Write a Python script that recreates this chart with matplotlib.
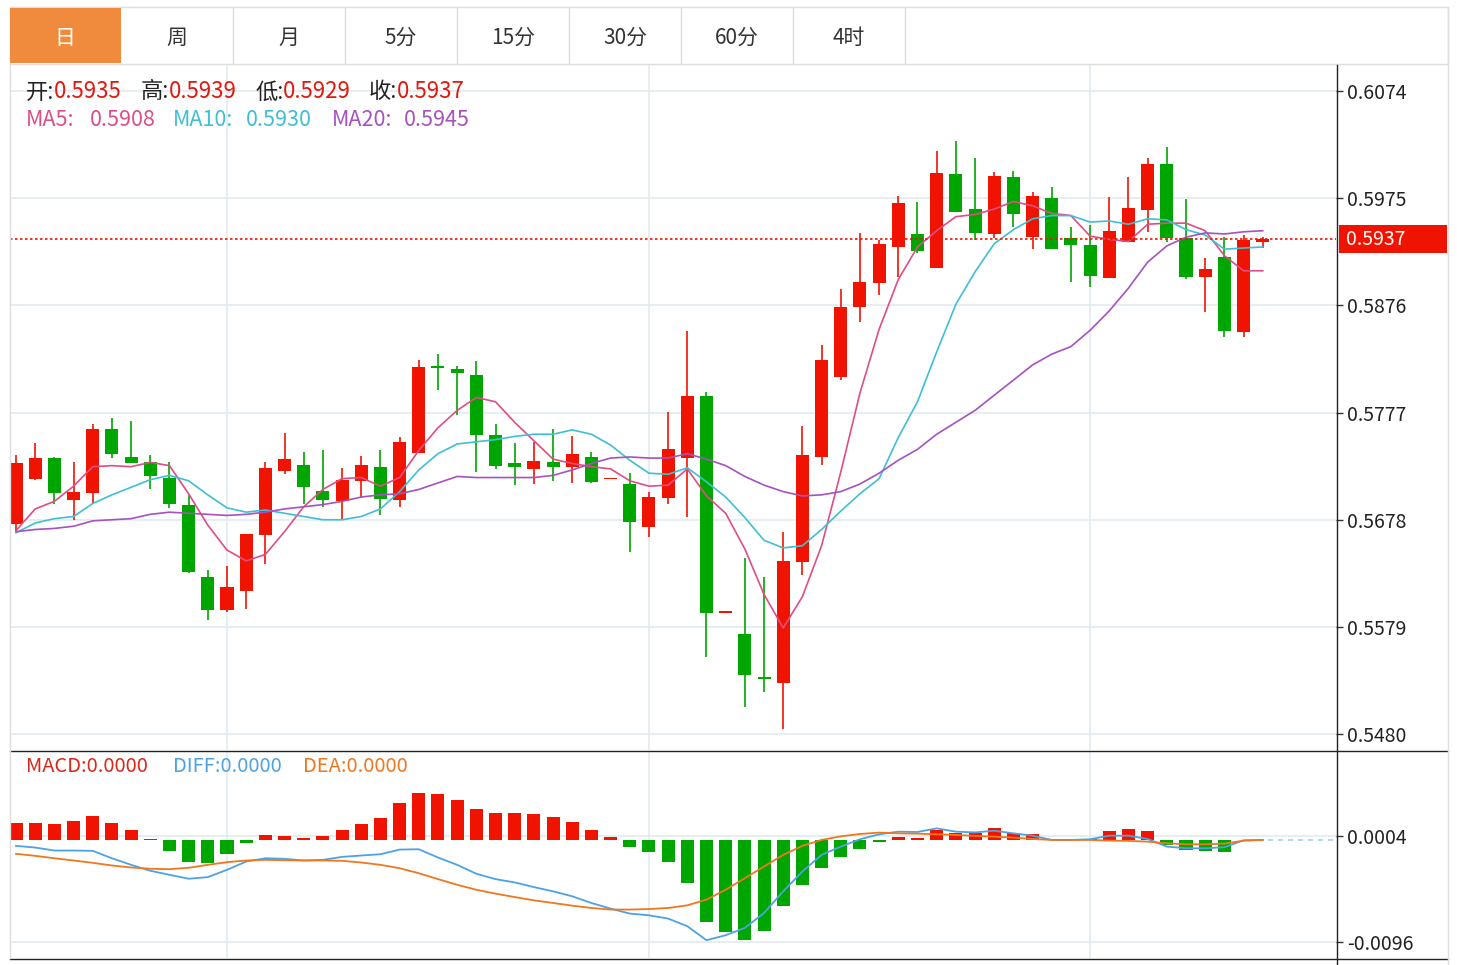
import matplotlib
matplotlib.use("Agg")
import matplotlib.pyplot as plt
import matplotlib.transforms as mtransforms
from matplotlib.patches import Rectangle
from matplotlib.lines import Line2D

plt.rcParams['font.family'] = ['Noto Sans CJK SC', 'DejaVu Sans']

# 日K 数据, 66 根
opens = [0.5674, 0.5716, 0.5735, 0.5696, 0.5703, 0.5762, 0.5736, 0.5731, 0.5717, 0.5692,
         0.5625, 0.5595, 0.5612, 0.5664, 0.5723, 0.5729, 0.5705, 0.5695, 0.5714, 0.5727,
         0.5696, 0.5740, 0.5820, 0.5817, 0.5812, 0.5756, 0.5730, 0.5725, 0.5731, 0.5727,
         0.5736, 0.5716, 0.5711, 0.5671, 0.5698, 0.5735, 0.5792, 0.5593, 0.5572, 0.5533,
         0.5527, 0.5639, 0.5736, 0.5810, 0.5875, 0.5897, 0.5930, 0.5942, 0.5911, 0.5997,
         0.5965, 0.5942, 0.5995, 0.5939, 0.5975, 0.5938, 0.5932, 0.5901, 0.5935, 0.5964,
         0.6007, 0.5938, 0.5902, 0.5921, 0.5851, 0.5935]
highs = [0.5738, 0.5749, 0.5736, 0.5731, 0.5766, 0.5772, 0.5769, 0.5738, 0.5731, 0.5701,
         0.5632, 0.5635, 0.5665, 0.5731, 0.5758, 0.5741, 0.5742, 0.5726, 0.5737, 0.5742,
         0.5754, 0.5826, 0.5831, 0.5820, 0.5825, 0.5766, 0.5749, 0.5750, 0.5762, 0.5755,
         0.5741, 0.5716, 0.5721, 0.5704, 0.5778, 0.5852, 0.5796, 0.5593, 0.5643, 0.5625,
         0.5667, 0.5765, 0.5839, 0.5891, 0.5943, 0.5936, 0.5977, 0.5972, 0.6019, 0.6028,
         0.6012, 0.5999, 0.6000, 0.5981, 0.5985, 0.5948, 0.5950, 0.5976, 0.5995, 0.6012,
         0.6022, 0.5974, 0.5920, 0.5939, 0.5941, 0.5939]
lows = [0.5668, 0.5715, 0.5693, 0.5678, 0.5693, 0.5735, 0.5730, 0.5706, 0.5689, 0.5629,
        0.5585, 0.5593, 0.5596, 0.5637, 0.5720, 0.5693, 0.5690, 0.5678, 0.5698, 0.5682,
        0.5690, 0.5740, 0.5798, 0.5775, 0.5722, 0.5725, 0.5710, 0.5711, 0.5714, 0.5712,
        0.5712, 0.5716, 0.5648, 0.5662, 0.5693, 0.5681, 0.5551, 0.5593, 0.5505, 0.5519,
        0.5485, 0.5627, 0.5729, 0.5807, 0.5861, 0.5886, 0.5902, 0.5924, 0.5911, 0.5962,
        0.5936, 0.5938, 0.5948, 0.5928, 0.5928, 0.5898, 0.5893, 0.5901, 0.5935, 0.5944,
        0.5935, 0.5900, 0.5870, 0.5847, 0.5847, 0.5929]
closes = [0.5730, 0.5735, 0.5703, 0.5704, 0.5762, 0.5739, 0.5730, 0.5718, 0.5693, 0.5630,
          0.5595, 0.5616, 0.5665, 0.5726, 0.5734, 0.5708, 0.5696, 0.5715, 0.5729, 0.5697,
          0.5750, 0.5819, 0.5818, 0.5814, 0.5756, 0.5728, 0.5727, 0.5732, 0.5727, 0.5739,
          0.5713, 0.5716, 0.5676, 0.5699, 0.5743, 0.5792, 0.5592, 0.5593, 0.5535, 0.5531,
          0.5640, 0.5738, 0.5826, 0.5875, 0.5898, 0.5933, 0.5971, 0.5926, 0.5998, 0.5962,
          0.5943, 0.5996, 0.5960, 0.5977, 0.5928, 0.5932, 0.5903, 0.5945, 0.5966, 0.6007,
          0.5938, 0.5902, 0.5910, 0.5852, 0.5936, 0.5937]

# 均线
ma5 = [0.5668, 0.5688, 0.5695, 0.5709, 0.5727, 0.5728, 0.5727, 0.5731, 0.5728, 0.5702,
       0.5673, 0.5650, 0.5640, 0.5646, 0.5667, 0.5690, 0.5706, 0.5716, 0.5717, 0.5709,
       0.5717, 0.5742, 0.5763, 0.5779, 0.5791, 0.5787, 0.5768, 0.5751, 0.5734, 0.5730,
       0.5727, 0.5725, 0.5714, 0.5709, 0.5710, 0.5725, 0.5700, 0.5684, 0.5651, 0.5609,
       0.5578, 0.5607, 0.5654, 0.5722, 0.5795, 0.5854, 0.5900, 0.5930, 0.5945, 0.5958,
       0.5960, 0.5965, 0.5972, 0.5968, 0.5961, 0.5959, 0.5940, 0.5937, 0.5935, 0.5951,
       0.5952, 0.5952, 0.5945, 0.5922, 0.5908, 0.5908]
ma10 = [0.5666, 0.5675, 0.5679, 0.5681, 0.5693, 0.5701, 0.5708, 0.5715, 0.5719, 0.5714,
        0.5701, 0.5689, 0.5685, 0.5687, 0.5684, 0.5681, 0.5678, 0.5678, 0.5681, 0.5688,
        0.5704, 0.5724, 0.5739, 0.5748, 0.5750, 0.5752, 0.5755, 0.5757, 0.5757, 0.5761,
        0.5757, 0.5747, 0.5733, 0.5721, 0.5720, 0.5726, 0.5713, 0.5699, 0.5680, 0.5659,
        0.5652, 0.5654, 0.5669, 0.5686, 0.5702, 0.5716, 0.5754, 0.5787, 0.5833, 0.5877,
        0.5907, 0.5933, 0.5946, 0.5956, 0.5959, 0.5959, 0.5953, 0.5954, 0.5951, 0.5956,
        0.5955, 0.5946, 0.5941, 0.5928, 0.5929, 0.5930]
ma20 = [0.5667, 0.5669, 0.5670, 0.5672, 0.5677, 0.5678, 0.5679, 0.5683, 0.5685, 0.5684,
        0.5683, 0.5682, 0.5683, 0.5685, 0.5688, 0.5690, 0.5692, 0.5695, 0.5699, 0.5701,
        0.5702, 0.5706, 0.5712, 0.5718, 0.5717, 0.5717, 0.5717, 0.5717, 0.5719, 0.5724,
        0.5730, 0.5735, 0.5736, 0.5735, 0.5735, 0.5739, 0.5734, 0.5728, 0.5718, 0.5710,
        0.5704, 0.5700, 0.5701, 0.5704, 0.5711, 0.5721, 0.5733, 0.5743, 0.5757, 0.5768,
        0.5779, 0.5793, 0.5807, 0.5821, 0.5831, 0.5838, 0.5853, 0.5871, 0.5892, 0.5916,
        0.5931, 0.5939, 0.5943, 0.5942, 0.5944, 0.5945]

# MACD
macd = [0.00162, 0.00162, 0.00147, 0.00181, 0.00223, 0.00160, 0.00094, 0.00009, -0.00100, -0.00204,
        -0.00213, -0.00134, -0.00031, 0.00047, 0.00038, 0.00016, 0.00035, 0.00094, 0.00150, 0.00207,
        0.00347, 0.00444, 0.00429, 0.00378, 0.00291, 0.00256, 0.00251, 0.00244, 0.00213, 0.00172,
        0.00094, 0.00025, -0.00069, -0.00115, -0.00204, -0.00404, -0.00773, -0.00873, -0.00946, -0.00857,
        -0.00626, -0.00423, -0.00263, -0.00162, -0.00087, -0.00016, 0.00025, 0.00019, 0.00091, 0.00069,
        0.00069, 0.00113, 0.00069, 0.00056, 0.00003, 0.00009, 0.00012, 0.00085, 0.00103, 0.00082,
        -0.00047, -0.00097, -0.00100, -0.00110, 0.0, 0.0]
diff = [-0.00056, -0.00072, -0.00100, -0.00100, -0.00103, -0.00173, -0.00235, -0.00291, -0.00329, -0.00366,
        -0.00351, -0.00282, -0.00204, -0.00173, -0.00178, -0.00194, -0.00188, -0.00160, -0.00147, -0.00135,
        -0.00091, -0.00088, -0.00166, -0.00235, -0.00319, -0.00370, -0.00401, -0.00445, -0.00485, -0.00532,
        -0.00595, -0.00648, -0.00695, -0.00711, -0.00742, -0.00814, -0.00946, -0.00899, -0.00830, -0.00689,
        -0.00485, -0.00298, -0.00141, -0.00063, 0.00006, 0.00053, 0.00078, 0.00075, 0.00109, 0.00078,
        0.00071, 0.00087, 0.00062, 0.00040, 0.0, 0.0, 0.00006, 0.00040, 0.00040, 0.00009,
        -0.00063, -0.00079, -0.00079, -0.00069, -0.00004, 0.0]
dea = [-0.00131, -0.00150, -0.00173, -0.00194, -0.00216, -0.00241, -0.00260, -0.00272, -0.00276, -0.00263,
       -0.00235, -0.00210, -0.00194, -0.00188, -0.00192, -0.00194, -0.00194, -0.00197, -0.00213, -0.00235,
       -0.00267, -0.00314, -0.00370, -0.00423, -0.00470, -0.00507, -0.00539, -0.00570, -0.00595, -0.00620,
       -0.00642, -0.00657, -0.00657, -0.00652, -0.00642, -0.00617, -0.00563, -0.00470, -0.00361, -0.00251,
       -0.00141, -0.00056, 0.0, 0.00034, 0.00056, 0.00069, 0.00062, 0.00059, 0.00053, 0.00047,
       0.00038, 0.00031, 0.00022, 0.00009, 0.0, 0.0, 0.0, -0.00007, -0.00009, -0.00016,
       -0.00032, -0.00041, -0.00041, -0.00035, -0.00007, 0.0]

price_ticks = [0.6074, 0.5975, 0.5876, 0.5777, 0.5678, 0.5579, 0.5480]
macd_ticks = [0.0004, -0.0096]
month_starts = [11, 33, 56]   # 竖向网格线所在的K线
tab_labels = ["日", "周", "月", "5分", "15分", "30分", "60分", "4时"]

RED = '#F01400'
GREEN = '#00A600'
GRID = '#E4ECF2'
BORDER = '#DEDEDE'
C_MA5 = '#DF4D87'
C_MA10 = '#3FBFD3'
C_MA20 = '#A552BE'
C_DIFF = '#4DA2E4'
C_DEA = '#F0771E'

W, H = 1457, 965
fig = plt.figure(figsize=(W / 100, H / 100), dpi=100)
fig.patch.set_facecolor('white')


def fx(px):
    return px / W


def fy(py):
    return 1 - py / H


def fig_line(x0, y0, x1, y1, color, lw=1.0):
    fig.add_artist(Line2D([fx(x0), fx(x1)], [fy(y0), fy(y1)], color=color, lw=lw,
                          transform=fig.transFigure))


# 顶部周期切换栏
fig.add_artist(Rectangle((fx(10), fy(64)), fx(1448) - fx(10), fy(7) - fy(64),
                         transform=fig.transFigure, facecolor='white', edgecolor=BORDER, lw=1))
fig.add_artist(Rectangle((fx(10), fy(63)), fx(121) - fx(10), fy(8) - fy(63),
                         transform=fig.transFigure, facecolor='#F08B3D', edgecolor='none'))
for k, lab in enumerate(tab_labels):
    if k > 0:
        fig_line(121 + 112 * k, 7, 121 + 112 * k, 64, BORDER)
    fig.text(fx(65 + 112 * k), fy(38), lab, ha='center', va='center', fontsize=15,
             color='white' if k == 0 else '#333333')

n = len(closes)
idx = list(range(n))
xlim = (-0.313, 68.82)

# 主图
ax = fig.add_axes([fx(10), fy(750), fx(1336) - fx(10), fy(65) - fy(750)])
ax.set_xlim(*xlim)
ax.set_ylim(0.54653, 0.60981)

cols = [RED if c >= o else GREEN for o, c in zip(opens, closes)]
ax.vlines(idx, lows, highs, colors=cols, lw=1.2, zorder=3)
min_h = 0.00015
body_h = [max(abs(c - o), min_h) for o, c in zip(opens, closes)]
body_b = [min(o, c) - (max(abs(c - o), min_h) - abs(c - o)) / 2 for o, c in zip(opens, closes)]
ax.bar(idx, body_h, bottom=body_b, width=0.68, color=cols, lw=0, zorder=4)

ax.plot(idx, ma5, color=C_MA5, lw=1.2, zorder=5)
ax.plot(idx, ma10, color=C_MA10, lw=1.2, zorder=5)
ax.plot(idx, ma20, color=C_MA20, lw=1.2, zorder=5)

ax.axhline(closes[-1], color=RED, lw=1.2, ls=(0, (1.5, 1.5)), zorder=6)

ax.set_yticks(price_ticks)
ax.set_yticklabels([f"{t:.4f}" for t in price_ticks])
ax.set_xticks(month_starts)
ax.grid(True, color=GRID, lw=1.3, zorder=0)
ax.set_axisbelow(True)
ax.yaxis.tick_right()
ax.tick_params(axis='y', length=5, width=1, color='#333333', labelcolor='#222222',
               labelsize=14, pad=3)
ax.tick_params(axis='x', length=0, labelbottom=False)
for s in ax.spines.values():
    s.set_visible(False)

# 当前价标签
trans = mtransforms.blended_transform_factory(ax.transAxes, ax.transData)
ph = 28 * (0.60981 - 0.54653) / 685
ax.add_patch(Rectangle((1.0023, closes[-1] - ph / 2), 0.0817, ph, transform=trans,
                       facecolor=RED, edgecolor='none', clip_on=False, zorder=7))
ax.text(1.0078, closes[-1], f"{closes[-1]:.4f}", transform=trans, color='white',
        fontsize=14, ha='left', va='center', clip_on=False, zorder=8)

# 主图表头
ohlc_names = ['开:', '高:', '低:', '收:']
ohlc_last = [opens[-1], highs[-1], lows[-1], closes[-1]]
ohlc_x = [26, 141, 255, 369]
for nm, v, x0 in zip(ohlc_names, ohlc_last, ohlc_x):
    fig.text(fx(x0), fy(92), nm, color='#222222', fontsize=16, ha='left', va='center')
    fig.text(fx(x0 + 28), fy(92), f"{v:.4f}", color='#E01A10', fontsize=16,
             ha='left', va='center')

ma_names = ['MA5:', 'MA10:', 'MA20:']
ma_last = [ma5[-1], ma10[-1], ma20[-1]]
ma_cols = [C_MA5, C_MA10, C_MA20]
ma_x = [26, 173, 332]
ma_vx = [90, 246, 404]
for nm, v, c, x0, x1 in zip(ma_names, ma_last, ma_cols, ma_x, ma_vx):
    fig.text(fx(x0), fy(120), nm, color=c, fontsize=15.5, ha='left', va='center')
    fig.text(fx(x1), fy(120), f"{v:.4f}", color=c, fontsize=15.5, ha='left', va='center')

# MACD 副图
ax2 = fig.add_axes([fx(10), fy(958), fx(1336) - fx(10), fy(751) - fy(958)])
ax2.set_xlim(*xlim)
ax2.set_ylim(-0.01114, 0.00839)
ax2.bar(idx, macd, width=0.68, color=[RED if m >= 0 else GREEN for m in macd], lw=0, zorder=3)
ax2.plot(idx, diff, color=C_DIFF, lw=1.3, zorder=4)
ax2.plot(idx, dea, color=C_DEA, lw=1.3, zorder=5)
ax2.plot([n - 1 + 0.25, xlim[1]], [dea[-1], dea[-1]], color='#9CD2EE', lw=1.2,
         ls=(0, (3, 3)), zorder=2)
ax2.set_yticks(macd_ticks)
ax2.set_yticklabels([f"{t:.4f}" for t in macd_ticks])
ax2.set_xticks(month_starts)
ax2.grid(True, color=GRID, lw=1.3, zorder=0)
ax2.set_axisbelow(True)
ax2.yaxis.tick_right()
ax2.tick_params(axis='y', length=5, width=1, color='#333333', labelcolor='#222222',
                labelsize=14, pad=3)
ax2.tick_params(axis='x', length=0, labelbottom=False)
for s in ax2.spines.values():
    s.set_visible(False)

macd_names = ['MACD:', 'DIFF:', 'DEA:']
macd_last = [macd[-1], diff[-1], dea[-1]]
macd_cols = ['#D9281A', C_DIFF, C_DEA]
macd_x = [26, 173, 303]
for nm, v, c, x0 in zip(macd_names, macd_last, macd_cols, macd_x):
    fig.text(fx(x0), fy(767), f"{nm}{v:.4f}", color=c, fontsize=14.5, ha='left', va='center')

# 边框和轴线
fig_line(1336.5, 65, 1336.5, 965, '#222222')
fig_line(10, 750.5, 1448, 750.5, '#222222')
fig_line(10, 958.5, 1448, 958.5, '#222222')
fig_line(1448, 7, 1448, 965, BORDER)
fig_line(10, 64, 10, 958, BORDER)

fig.savefig('out.png', dpi=100)
